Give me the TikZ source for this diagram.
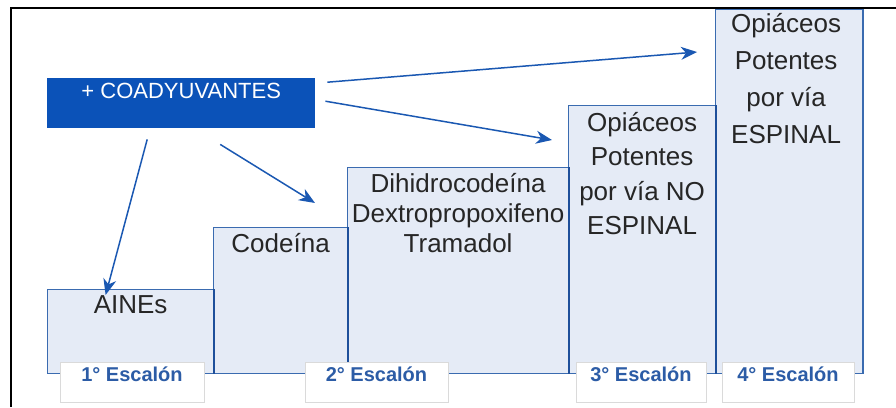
\documentclass[tikz,border=0pt]{standalone}
\usepackage{fontspec}
\setmainfont{Liberation Sans}
\usepackage{tikz}
\usetikzlibrary{arrows.meta, positioning}
\definecolor{coadblue}{HTML}{0B52B8}
\definecolor{stepfill}{HTML}{E5EBF6}
\definecolor{stepline}{HTML}{3A6BB0}
\definecolor{stepedge}{HTML}{1E4F9A}
\definecolor{arrowblue}{HTML}{1A58B2}
\definecolor{labelblue}{HTML}{2C5CA6}
\definecolor{labelline}{HTML}{DADADA}
\definecolor{textgray}{HTML}{262626}
\tikzset{
  stepbox/.style={
    rectangle, draw=stepline, line width=1.2pt,
    fill=stepfill, anchor=north west, inner sep=0pt
  },
  steptext/.style={
    anchor=north, inner sep=0pt, align=center,
    text=textgray, font=\fontsize{26}{30}\selectfont
  },
  coadbox/.style={
    rectangle, fill=coadblue, anchor=north west,
    inner sep=0pt, minimum width=268pt, minimum height=50pt,
    text height=20pt, text depth=30pt,
    text=white, font=\fontsize{22}{26}\selectfont
  },
  escalon/.style={
    rectangle, draw=labelline, fill=white, line width=0.8pt,
    inner sep=0pt, minimum height=40pt,
    text height=19pt, text depth=21pt,
    text=labelblue, font=\fontsize{20}{24}\selectfont\bfseries
  },
  edgeline/.style={stepedge, line width=2.2pt},
  coadarrow/.style={-{Stealth[length=16pt, width=13pt, inset=5pt]}, line width=1.5pt, arrowblue}
}

\begin{document}
\begin{tikzpicture}[x=1pt, y=-1pt]
    \useasboundingbox (0,0) rectangle (896,407);
    % escalones
    \node[stepbox, minimum width=166pt, minimum height=84pt]  (s1) at (47,289) {};
    \node[stepbox, minimum width=134pt, minimum height=146pt] (s2) at (213,227) {};
    \node[stepbox, minimum width=221pt, minimum height=206pt] (s3) at (347,167) {};
    \node[stepbox, minimum width=147pt, minimum height=268pt] (s4) at (568,105) {};
    \node[stepbox, minimum width=147pt, minimum height=364pt] (s5) at (715,9) {};
    \draw[edgeline] (s1.north east) -- (s1.south east);
    \draw[edgeline] (s2.north east) -- (s2.south east);
    \draw[edgeline] (s3.north east) -- (s3.south east);
    \draw[edgeline] (s4.north east) -- (s4.south east);
    \draw[stepline, line width=1.6pt] (s5.north east) -- (s5.south east);
    \node[steptext, yshift=-6pt] (t1) at (s1.north) {AINEs};
    \node[steptext, yshift=-6pt] (t2) at (s2.north) {Codeína};
    \node[steptext, yshift=-6pt] (t3) at (s3.north)
      {Dihidrocodeína\\Dextropropoxifeno\\Tramadol};
    \node[steptext, yshift=-7pt, font=\fontsize{26}{34.5}\selectfont] (t4) at (s4.north)
      {Opiáceos\\Potentes\\por vía NO\\ESPINAL};
    \node[steptext, xshift=-3pt, yshift=-4pt, font=\fontsize{26}{37}\selectfont] (t5) at (s5.north)
      {Opiáceos\\Potentes\\por vía\\ESPINAL};
    % etiquetas
    \node[escalon, minimum width=144pt] (l1) at (132,382) {1° Escalón};
    \node[escalon, minimum width=143pt] (l2) at (376.5,382) {2° Escalón};
    \node[escalon, minimum width=130pt] (l3) at (641,382) {3° Escalón};
    \node[escalon, minimum width=132pt] (l4) at (788,382) {4° Escalón};
    % coadyuvantes
    \node[coadbox] (coad) at (47,78) {+ COADYUVANTES};
    \coordinate (c1) at ([xshift=-34pt, yshift=-11pt]coad.south);
    \coordinate (c2) at ([xshift=39pt, yshift=-16pt]coad.south);
    \coordinate (c3) at ([xshift=10pt, yshift=2pt]coad.east);
    \coordinate (c4) at ([xshift=12pt, yshift=21pt]coad.east);
    \coordinate (e1) at ([xshift=-25pt, yshift=-6pt]s1.north);
    \coordinate (e2) at ([xshift=-32pt, yshift=-36pt]s3.north west);
    \coordinate (e3) at ([xshift=-16pt, yshift=-35pt]s4.north west);
    \coordinate (e4) at ([xshift=-18pt, yshift=-43pt]s5.north west);
    \draw[coadarrow] (c1) -- (e1);
    \draw[coadarrow] (c2) -- (e2);
    \draw[coadarrow] (c3) -- (e3);
    \draw[coadarrow] (c4) -- (e4);
    % marco
    \draw[line width=2pt] (11,407) -- (11,8) -- (896,8);
  \end{tikzpicture}
\end{document}
